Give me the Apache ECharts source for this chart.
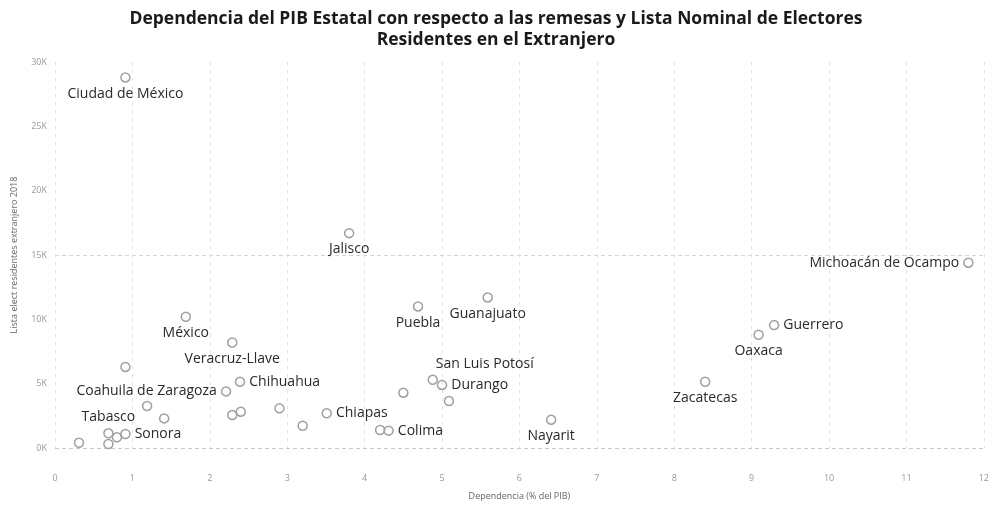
<!DOCTYPE html>
<html>
<head>
<meta charset="utf-8">
<script src="https://cdn.jsdelivr.net/npm/echarts@6/dist/echarts.min.js"></script>
<style>
  html, body { margin: 0; padding: 0; background: #fff; }
  #chart { width: 992px; height: 506px; }
</style>
</head>
<body>
<div id="chart"></div>
<script>
// estados (vacío = punto sin etiqueta)
const estados = [
  'Ciudad de México', 'Jalisco', 'Michoacán de Ocampo', 'Guanajuato', 'Puebla',
  'México', 'Guerrero', 'Oaxaca', 'Veracruz-Llave', '',
  'Coahuila de Zaragoza', 'Chihuahua', 'San Luis Potosí', 'Durango', '',
  '', 'Chiapas', '', 'Colima', 'Nayarit',
  'Zacatecas', '', '', '', '',
  '', '', '', '', 'Tabasco',
  '', 'Sonora'
];
// Dependencia (% del PIB)
const dependencia = [
  0.91, 3.80, 11.80, 5.59, 4.69,
  1.69, 9.29, 9.09, 2.29, 0.91,
  2.21, 2.39, 4.88, 5.00, 4.50,
  5.09, 3.51, 4.20, 4.31, 6.41,
  8.40, 1.19, 1.41, 2.29, 2.40,
  2.90, 3.20, 0.31, 0.69, 0.69,
  0.80, 0.91
];
// Lista elect residentes extranjero 2018
const listaNominal = [
  28800, 16700, 14400, 11700, 11000,
  10200, 9550, 8800, 8200, 6300,
  4400, 5150, 5300, 4900, 4300,
  3650, 2700, 1400, 1350, 2200,
  5150, 3260, 2300, 2560, 2820,
  3080, 1730, 410, 310, 1140,
  830, 1090
];

const labelPos = {
  'Michoacán de Ocampo': 'left',
  'Coahuila de Zaragoza': 'left',
  'Guerrero': 'right',
  'Chihuahua': 'right',
  'Durango': 'right',
  'Chiapas': 'right',
  'Colima': 'right',
  'Sonora': 'right',
  'Tabasco': 'top',
  'San Luis Potosí': 'top'
};

const points = estados.map((name, i) => {
  const item = { name: name, value: [dependencia[i], listaNominal[i]] };
  if (!name) {
    item.label = { show: false };
  } else {
    item.label = { position: labelPos[name] || 'bottom' };
    if (name === 'San Luis Potosí') item.label.offset = [52, 0];
  }
  return item;
});

const chart = echarts.init(document.getElementById('chart'));
const axisText = { color: '#9a9a9a', fontSize: 9, fontFamily: 'Open Sans' };

chart.setOption({
  animation: false,
  textStyle: { fontFamily: 'Open Sans' },
  title: {
    text: 'Dependencia del PIB Estatal con respecto a las remesas y Lista Nominal de Electores\nResidentes en el Extranjero',
    left: 'center',
    top: 4,
    textStyle: { fontSize: 17.5, fontWeight: 'bold', color: '#1a1a1a', lineHeight: 21, fontFamily: 'Open Sans' }
  },
  grid: { left: 55, right: 2, top: 62, bottom: 58 },
  xAxis: {
    type: 'value',
    min: 0, max: 12, interval: 1,
    name: 'Dependencia (% del PIB)',
    nameLocation: 'middle',
    nameGap: 44,
    nameTextStyle: { color: '#666', fontSize: 9 },
    axisLine: { show: false },
    axisTick: { show: false },
    axisLabel: Object.assign({ margin: 26 }, axisText),
    splitLine: { show: true, lineStyle: { color: '#e0e0e0', type: [3, 5], width: 1 } }
  },
  yAxis: {
    type: 'value',
    min: 0, max: 30000, interval: 5000,
    name: 'Lista elect residentes extranjero 2018',
    nameLocation: 'middle',
    nameGap: 36,
    nameTextStyle: { color: '#666', fontSize: 9 },
    axisLine: { show: false },
    axisTick: { show: false },
    axisLabel: Object.assign({ margin: 8, formatter: v => (v / 1000) + 'K' }, axisText),
    splitLine: {
      show: true,
      lineStyle: {
        color: ['#c8c8c8', 'rgba(0,0,0,0)', 'rgba(0,0,0,0)', '#d4d4d4', 'rgba(0,0,0,0)', 'rgba(0,0,0,0)', 'rgba(0,0,0,0)'],
        type: [4, 3],
        width: 1
      }
    }
  },
  series: [{
    type: 'scatter',
    data: points,
    symbol: 'circle',
    symbolSize: 9,
    itemStyle: { color: 'rgba(255,255,255,0)', borderColor: '#a0a0a0', borderWidth: 1.5, opacity: 1 },
    label: {
      show: true,
      formatter: '{b}',
      color: '#2a2a2a',
      fontSize: 14,
      fontFamily: 'Open Sans',
      distance: 4
    }
  }]
});
</script>
</body>
</html>
